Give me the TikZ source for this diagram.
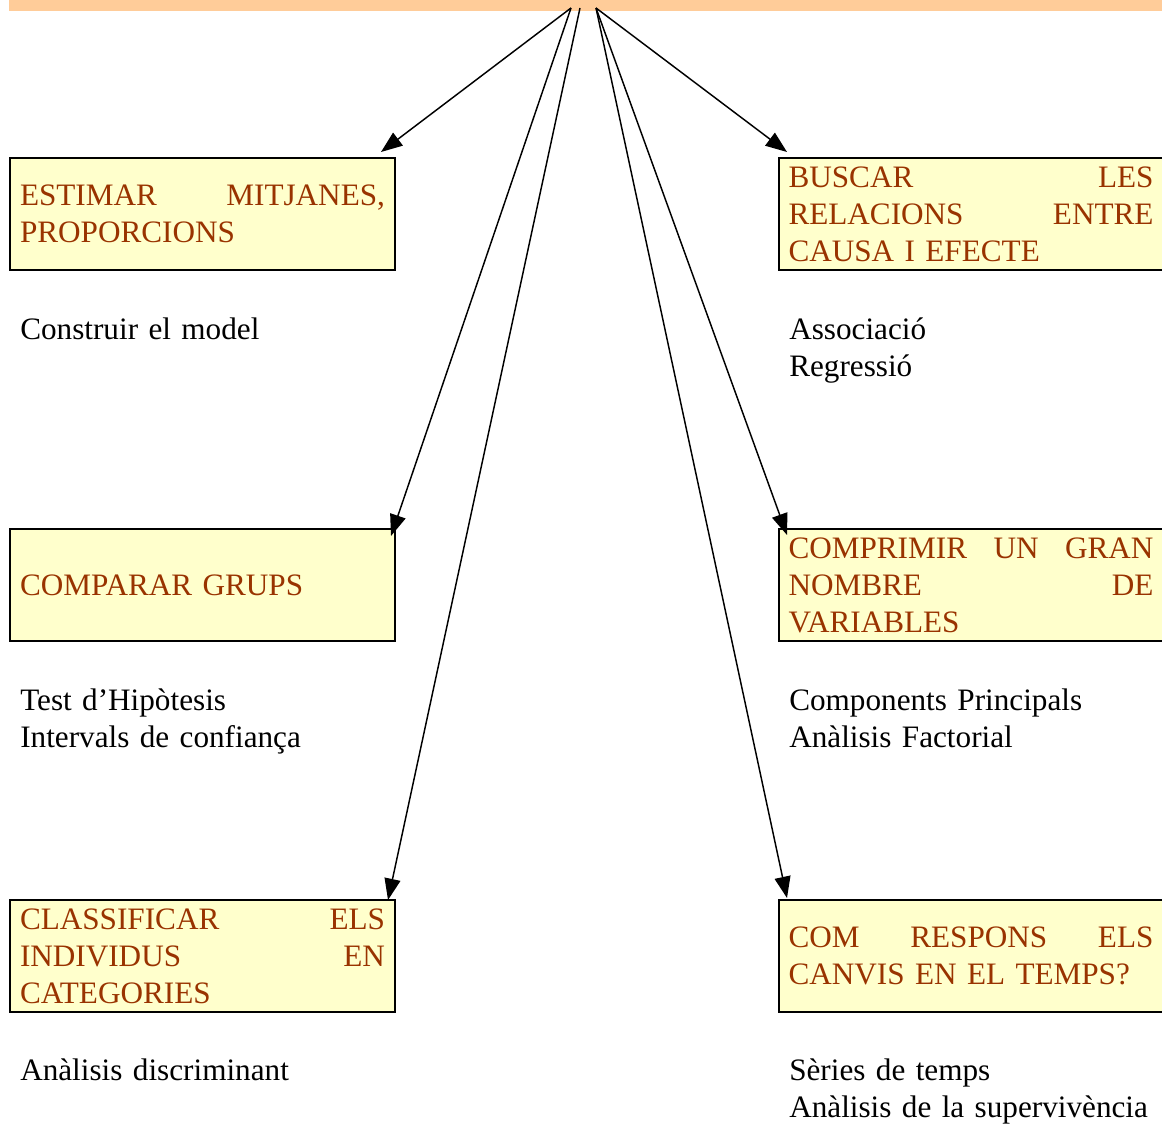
\documentclass[tikz,border=0pt]{standalone}
\usepackage{fontspec}
\setmainfont{Liberation Serif}
\usetikzlibrary{arrows.meta}

\definecolor{titol}{HTML}{993300}
\definecolor{caixa}{HTML}{FFFFCC}
\definecolor{franja}{HTML}{FFCC99}

\tikzset{
  pregunta/.style={draw=black, line width=1.5pt, fill=caixa, text=titol,
    text width=273.75pt, inner xsep=7.5pt, minimum height=84pt, align=left,
    font=\fontsize{23.4}{27.75}\selectfont},
  metode/.style={anchor=base west, inner sep=0pt, text width=300pt, align=left,
    font=\fontsize{23.4}{27.75}\selectfont},
  fletxa/.style={-{Triangle[length=16pt,width=12pt]}, line width=1.1pt}
}

\begin{document}
\begin{tikzpicture}[x=0.75pt,y=-0.75pt]
\useasboundingbox (0,0) rectangle (1162,1123);

% franja de dalt
\node[fill=franja, inner sep=0pt, minimum width=1170*0.75pt, minimum height=16*0.75pt, anchor=south west] (dalt) at (9,11) {};
\coordinate (srcA) at (571,8);
\coordinate (srcB) at (580,8);
\coordinate (srcC) at (596,8);

% caixes
\node[pregunta] (estimar) at (202.5,214) {ESTIMAR \hfill MITJANES,\\ PROPORCIONS};
\node[pregunta] (comparar) at (202.5,585) {COMPARAR GRUPS};
\node[pregunta] (classificar) at (202.5,956) {CLASSIFICAR \hfill ELS\\ INDIVIDUS \hfill EN\\ CATEGORIES};
\node[pregunta] (buscar) at (971,214) {BUSCAR \hfill LES\\ RELACIONS \hfill ENTRE\\ CAUSA I EFECTE};
\node[pregunta] (comprimir) at (971,585) {COMPRIMIR \hfill UN \hfill GRAN\\ NOMBRE \hfill DE\\ VARIABLES};
\node[pregunta] (canvis) at (971,956) {COM \hfill RESPONS \hfill ELS\\ CANVIS EN EL TEMPS?};

% metodes
\node[metode] (model) at (20,339) {Construir el model};
\node[metode] (test) at (20,710) {Test d’Hipòtesis\\ Intervals de confiança};
\node[metode] (discr) at (20,1080) {Anàlisis discriminant};
\node[metode] (assoc) at (789,339) {Associació\\ Regressió};
\node[metode] (compo) at (789,710) {Components Principals\\ Anàlisis Factorial};
\node[metode] (series) at (789,1080) {Sèries de temps\\ Anàlisis de la supervivència};

% fletxes
\coordinate (tEstimar) at (381,152);
\coordinate (tComparar) at (391,536);
\coordinate (tClassificar) at (388,900);
\coordinate (tBuscar) at (787,152);
\coordinate (tComprimir) at (787,535);
\coordinate (tCanvis) at (787,898);

\draw[fletxa] (srcA) -- (tEstimar);
\draw[fletxa] (srcA) -- (tComparar);
\draw[fletxa] (srcB) -- (tClassificar);
\draw[fletxa] (srcC) -- (tBuscar);
\draw[fletxa] (srcC) -- (tComprimir);
\draw[fletxa] (srcC) -- (tCanvis);
\end{tikzpicture}
\end{document}
